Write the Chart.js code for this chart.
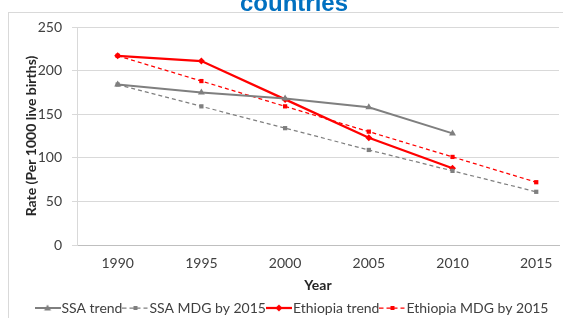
<!DOCTYPE html>
<html>
<head>
<meta charset="utf-8">
<script src="https://cdn.jsdelivr.net/npm/chart.js@4"></script>
<style>
  html, body { margin: 0; padding: 0; background: #fff; overflow: hidden; }
  #wrap { position: relative; width: 563px; height: 318px; overflow: hidden; }
  #frame { position: absolute; left: 8px; top: 12px; width: 700px; height: 400px;
           border-left: 1px solid #d9d9d9; border-top: 1px solid #d9d9d9; }
  #c { position: absolute; left: 0; top: 0; }
</style>
</head>
<body>
<div id="wrap">
  <div id="frame"></div>
  <canvas id="c" width="563" height="318"></canvas>
</div>
<script>
// chart data
const titleText = "countries";
const years = [1990, 1995, 2000, 2005, 2010, 2015];
const ssaTrend = [184, 175, 168, 158, 128, null];
const ssaMdg = [184, 159, 134, 109, 85, 61];
const ethTrend = [217, 211, 167, 123, 88, null];
const ethMdg = [217, 188, 159, 130, 101, 72];
const yTicks = [0, 50, 100, 150, 200, 250];

const GRAY = "#7f7f7f";
const RED = "#ff0000";
const FONT = "Lato, 'Liberation Sans', sans-serif";
const TXT = "#404040";

function pts(vals) {
  return years.map((yr, i) => ({ x: yr, y: vals[i] }));
}

// legend icon: short line with the marker in the middle
function makeIcon(color, dash, marker, lw) {
  const cv = document.createElement("canvas");
  cv.width = 26; cv.height = 10;
  const g = cv.getContext("2d");
  g.strokeStyle = color; g.fillStyle = color; g.lineWidth = lw;
  g.setLineDash(dash);
  g.beginPath(); g.moveTo(0, 5); g.lineTo(26, 5); g.stroke();
  g.setLineDash([]);
  g.beginPath();
  if (marker === "triangle") {
    g.moveTo(13, 1.5); g.lineTo(16.5, 7.5); g.lineTo(9.5, 7.5); g.closePath();
  } else if (marker === "rectRot") {
    g.moveTo(13, 1.5); g.lineTo(16.5, 5); g.lineTo(13, 8.5); g.lineTo(9.5, 5); g.closePath();
  } else {
    g.rect(11, 3, 4, 4);
  }
  g.fill();
  return cv;
}

const series = [
  { label: "SSA trend", data: ssaTrend, color: GRAY, dash: [], lw: 2, style: "triangle", r: 4 },
  { label: "SSA MDG by 2015", data: ssaMdg, color: GRAY, dash: [4, 3], lw: 1.25, style: "rect", r: 3 },
  { label: "Ethiopia trend", data: ethTrend, color: RED, dash: [], lw: 2.25, style: "rectRot", r: 3.5 },
  { label: "Ethiopia MDG by 2015", data: ethMdg, color: RED, dash: [4, 3], lw: 1.25, style: "rect", r: 3 }
];

const titlePlugin = {
  id: "cutTitle",
  afterDraw(chart) {
    const ctx = chart.ctx;
    ctx.save();
    ctx.font = "bold 24px 'Liberation Sans', Arial, sans-serif";
    ctx.fillStyle = "#0070c0";
    ctx.textAlign = "center";
    ctx.textBaseline = "alphabetic";
    ctx.fillText(titleText, 294, 11);
    ctx.restore();
  }
};

// the original chart is wider than the crop, so its legend sits right of centre
const shiftLegend = {
  id: "shiftLegend",
  afterLayout(chart) {
    const lg = chart.legend;
    lg.left += 13; lg.right += 13;
    lg.top += 7; lg.bottom += 7;
  }
};

new Chart(document.getElementById("c"), {
  type: "line",
  data: {
    datasets: series.map(s => ({
      label: s.label,
      data: pts(s.data),
      borderColor: s.color,
      backgroundColor: s.color,
      borderWidth: s.lw,
      borderDash: s.dash,
      pointStyle: s.style,
      pointRadius: s.r,
      pointBorderWidth: 0,
      pointBackgroundColor: s.color,
      tension: 0,
      spanGaps: false,
      icon: makeIcon(s.color, s.dash, s.style, s.lw)
    }))
  },
  options: {
    responsive: false,
    animation: false,
    layout: { padding: { top: 27, left: 0, right: 0, bottom: 0 } },
    plugins: {
      tooltip: { enabled: false },
      title: { display: false },
      legend: {
        position: "bottom",
        labels: {
          usePointStyle: true,
          pointStyleWidth: 14,
          padding: 6,
          color: TXT,
          font: { family: FONT, size: 14 },
          generateLabels(chart) {
            return chart.data.datasets.map((d, i) => ({
              text: d.label,
              pointStyle: d.icon,
              fillStyle: d.borderColor,
              strokeStyle: d.borderColor,
              lineWidth: 0,
              fontColor: TXT,
              datasetIndex: i,
              hidden: false
            }));
          }
        }
      }
    },
    scales: {
      x: {
        type: "linear",
        min: 1987.57,
        max: 2016.36,
        afterBuildTicks(scale) { scale.ticks = years.map(v => ({ value: v })); },
        afterFit(scale) { scale.height = 43; },
        grid: { display: false, drawTicks: false },
        border: { display: true, color: "#bfbfbf", width: 1 },
        ticks: {
          padding: 10,
          color: TXT,
          font: { family: FONT, size: 14 },
          callback: v => String(v)
        },
        title: {
          display: true,
          text: "Year",
          color: "#262626",
          font: { family: FONT, size: 14, weight: "bold" },
          padding: { top: 0, bottom: -6 }
        }
      },
      y: {
        min: 0,
        max: 250,
        afterBuildTicks(scale) { scale.ticks = yTicks.map(v => ({ value: v })); },
        afterFit(scale) { scale.width = 77; },
        grid: { color: "#d9d9d9", lineWidth: 1, tickLength: 5, drawTicks: true },
        border: { display: true, color: "#d9d9d9", width: 1 },
        ticks: {
          padding: 10,
          color: TXT,
          font: { family: FONT, size: 14 }
        },
        title: {
          display: true,
          text: "Rate (Per 1000 live births)",
          color: "#262626",
          font: { family: FONT, size: 14, weight: "bold" },
          padding: { top: 22.6, bottom: 0 }
        }
      }
    }
  },
  plugins: [titlePlugin, shiftLegend]
});
</script>
</body>
</html>
